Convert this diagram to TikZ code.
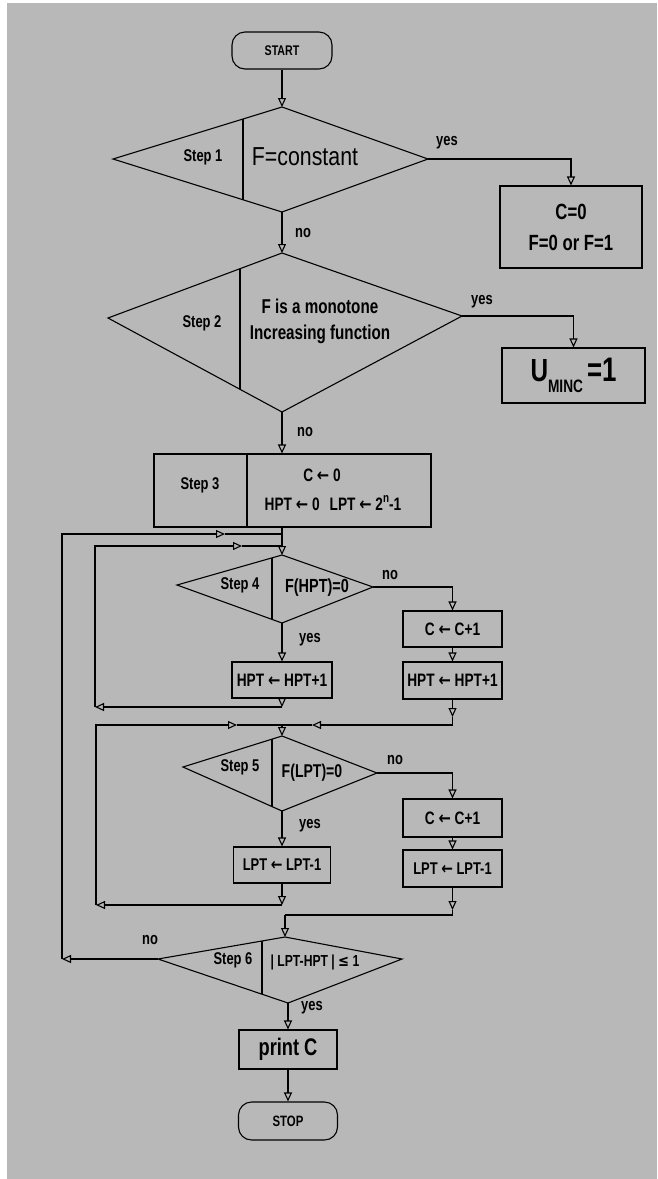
\documentclass[tikz,border=0pt]{standalone}
\usepackage{fontspec}
\setmainfont{Liberation Sans}[FakeStretch=0.82,BoldFeatures={FakeStretch=0.76}]
\newfontfamily\symfont{DejaVu Sans}[FakeStretch=0.82]
\usetikzlibrary{arrows.meta}
\definecolor{bgc}{gray}{0.72}
\newcommand\fsz[1]{\fontsize{#1}{#1}\selectfont\bfseries}
\newcommand\fsr[1]{\fontsize{#1}{#1}\selectfont}
\newcommand\lar{{\symfont ←}}
\begin{document}
\begin{tikzpicture}[x=1pt,y=-1pt,line width=1.1pt,
  arr/.style={-{Triangle[open,length=9pt,width=8pt,line width=1.1pt]}},
  lbl/.style={inner sep=0pt,font=\fsz{17}},
  tx/.style={inner sep=0pt},
  pbox/.style={draw,rectangle,inner sep=0pt},
  term/.style={draw,rectangle,rounded corners=13pt,inner sep=0pt}]
\useasboundingbox (0,0) rectangle (657,1179);
\fill[white] (0,0) rectangle (657,1179);
\fill[bgc] (7,3) rectangle (657,1179);

% START
\node[term,minimum width=100pt,minimum height=37pt,font=\fsz{14}] (start) at (282,50.5) {START};

% Step 1
\coordinate (s1t) at (282,107); \coordinate (s1r) at (428,159);
\coordinate (s1b) at (282,212); \coordinate (s1l) at (113,159);
\draw (s1t) -- (s1r) -- (s1b) -- (s1l) -- cycle;
\draw (243,119) -- (243,200);
\node[tx,font=\fsz{17}] (s1a) at (203,157) {Step 1};
\node[tx,font=\fsr{26}] (s1c) at (305,157) {F=constant};
\node[pbox,minimum width=142pt,minimum height=82pt,align=center,font=\fontsize{22}{31}\selectfont\bfseries] (c0) at (571,227) {C=0\\F=0 or F=1};

% Step 2
\coordinate (s2t) at (282,253); \coordinate (s2r) at (462,316);
\coordinate (s2b) at (282,412); \coordinate (s2l) at (108,318);
\draw (s2t) -- (s2r) -- (s2b) -- (s2l) -- cycle;
\draw (240,269) -- (240,389);
\node[tx,font=\fsz{17}] (s2a) at (202,323) {Step 2};
\node[tx,align=center,font=\fontsize{20}{26}\selectfont\bfseries] (s2c) at (320,321) {F is a monotone\\Increasing function};
\node[pbox,minimum width=143pt,minimum height=55pt] (um) at (573.5,375.5) {{\fsz{32}U}\raisebox{-11pt}{\fsz{18}MINC}\hspace{4pt}{\fsz{34}=1}};

% Step 3
\node[pbox,minimum width=277pt,minimum height=73pt] (s3) at (292.5,490.5) {};
\draw (247,454) -- (247,527);
\node[tx,font=\fsz{17}] (s3a) at (200,485) {Step 3};
\node[tx,font=\fsz{18}] (s3c) at (322,475) {C \lar{} 0};
\node[tx,font=\fsz{18}] (s3d) at (333,503) {HPT \lar{} 0\hspace{10pt}LPT \lar{} 2\raisebox{8pt}{\fsz{13}n}-1};

% Step 4
\coordinate (s4t) at (282,555); \coordinate (s4r) at (373,587);
\coordinate (s4b) at (282,623); \coordinate (s4l) at (177,585);
\draw (s4t) -- (s4r) -- (s4b) -- (s4l) -- cycle;
\draw (272,558) -- (272,619);
\node[tx,font=\fsz{17}] (s4a) at (240,585) {Step 4};
\node[tx,font=\fsz{19}] (s4c) at (317,588) {F(HPT)=0};
\node[pbox,minimum width=100pt,minimum height=36pt,font=\fsz{18}] (h4) at (282,680) {HPT \lar{} HPT+1};
\node[pbox,minimum width=99pt,minimum height=36pt,font=\fsz{18}] (c4) at (452.5,629) {C \lar{} C+1};
\node[pbox,minimum width=99pt,minimum height=37pt,font=\fsz{18}] (hr4) at (452.5,680.5) {HPT \lar{} HPT+1};

% Step 5
\coordinate (s5t) at (282,736); \coordinate (s5r) at (377,773);
\coordinate (s5b) at (282,811); \coordinate (s5l) at (183,767);
\draw (s5t) -- (s5r) -- (s5b) -- (s5l) -- cycle;
\draw (272,739) -- (272,807);
\node[tx,font=\fsz{17}] (s5a) at (240,767) {Step 5};
\node[tx,font=\fsz{18.5}] (s5c) at (312,773) {F(LPT)=0};
\node[pbox,minimum width=97pt,minimum height=36pt,font=\fsz{17}] (l5) at (282,865) {LPT \lar{} LPT-1};
\node[pbox,minimum width=99pt,minimum height=38pt,font=\fsz{18}] (c5) at (452.5,818) {C \lar{} C+1};
\node[pbox,minimum width=99pt,minimum height=37pt,font=\fsz{17}] (lr5) at (452.5,868.5) {LPT \lar{} LPT-1};

% Step 6
\coordinate (s6t) at (285,937); \coordinate (s6r) at (402,959);
\coordinate (s6b) at (288,1003); \coordinate (s6l) at (158,959);
\draw (s6t) -- (s6r) -- (s6b) -- (s6l) -- cycle;
\draw (262,941) -- (262,994);
\node[tx,font=\fsz{17}] (s6a) at (233,960) {Step 6};
\node[tx,font=\fsz{16}] (s6c) at (315,962) {| LPT-HPT | {\symfont ≤} 1};
\node[pbox,minimum width=98pt,minimum height=39pt,font=\fsz{24}] (pc) at (288,1049.5) {print C};
\node[term,minimum width=99pt,minimum height=38pt,font=\fsz{15}] (stop) at (288,1121) {STOP};

% labels
\node[lbl] (y1) at (447,143) {yes};
\node[lbl] (n1) at (303,233) {no};
\node[lbl] (y2) at (482,302) {yes};
\node[lbl] (n2) at (305,432) {no};
\node[lbl] (n4) at (390,575) {no};
\node[lbl] (y4) at (310,640) {yes};
\node[lbl] (n5) at (395,760) {no};
\node[lbl] (y5) at (310,826) {yes};
\node[lbl] (n6) at (150,940) {no};
\node[lbl] (y6) at (312,1008) {yes};

% junction coordinates
\coordinate (j1) at (282,534); \coordinate (j2) at (282,546);
\coordinate (o1) at (62,959); \coordinate (o2) at (62,534); \coordinate (oa) at (225,534);
\coordinate (k1) at (282,707); \coordinate (k2) at (95,707);
\coordinate (k3) at (95,546); \coordinate (ka) at (242,546);
\coordinate (r1) at (452.5,717); \coordinate (r2) at (452.5,725);
\coordinate (ra) at (312,725); \coordinate (j3) at (282,725);
\coordinate (m1) at (282,905); \coordinate (m2) at (96,905);
\coordinate (m3) at (96,725); \coordinate (ma) at (237,725);
\coordinate (q1) at (452.5,910); \coordinate (q2) at (452.5,915);
\coordinate (j4) at (285,915);

% connectors
\draw[arr] (start.south) -- (s1t);
\draw[arr] (s1r) -- (c0.north |- s1r) -- (c0.north);
\draw[arr] (s1b) -- (s2t);
\draw[arr] (s2r) -- (um.north |- s2r) -- (um.north);
\draw[arr] (s2b) -- (s2b |- s3.north);
\draw (s2b |- s3.south) -- (j1) -- (j2);
\draw[arr] (j2) -- (s4t);
% outer loop
\draw[arr] (s6l) -- (o1);
\draw[arr] (o1) -- (o2) -- (oa);
\draw (oa) -- (j1);
% step 4 loop
\draw[arr] (s4b) -- (h4.north);
\draw[arr] (h4.south) -- (k1);
\draw[arr] (k1) -- (k2);
\draw[arr] (k2) -- (k3) -- (ka);
\draw (ka) -- (j2);
\draw[arr] (s4r) -- (c4.north |- s4r) -- (c4.north);
\draw[arr] (c4.south) -- (hr4.north);
\draw[arr] (hr4.south) -- (r1);
\draw (r1) -- (r2);
\draw[arr] (r2) -- (ra);
\draw (ra) -- (j3);
% step 5 loop
\draw[arr] (j3) -- (s5t);
\draw[arr] (s5b) -- (l5.north);
\draw[arr] (l5.south) -- (m1);
\draw[arr] (m1) -- (m2);
\draw[arr] (m2) -- (m3) -- (ma);
\draw (ma) -- (j3);
\draw[arr] (s5r) -- (c5.north |- s5r) -- (c5.north);
\draw[arr] (c5.south) -- (lr5.north);
\draw[arr] (lr5.south) -- (q1);
\draw (q1) -- (q2) -- (j4);
\draw[arr] (j4) -- (s6t);
% step 6
\draw[arr] (s6b) -- (pc.north);
\draw[arr] (pc.south) -- (stop.north);
\end{tikzpicture}
\end{document}
